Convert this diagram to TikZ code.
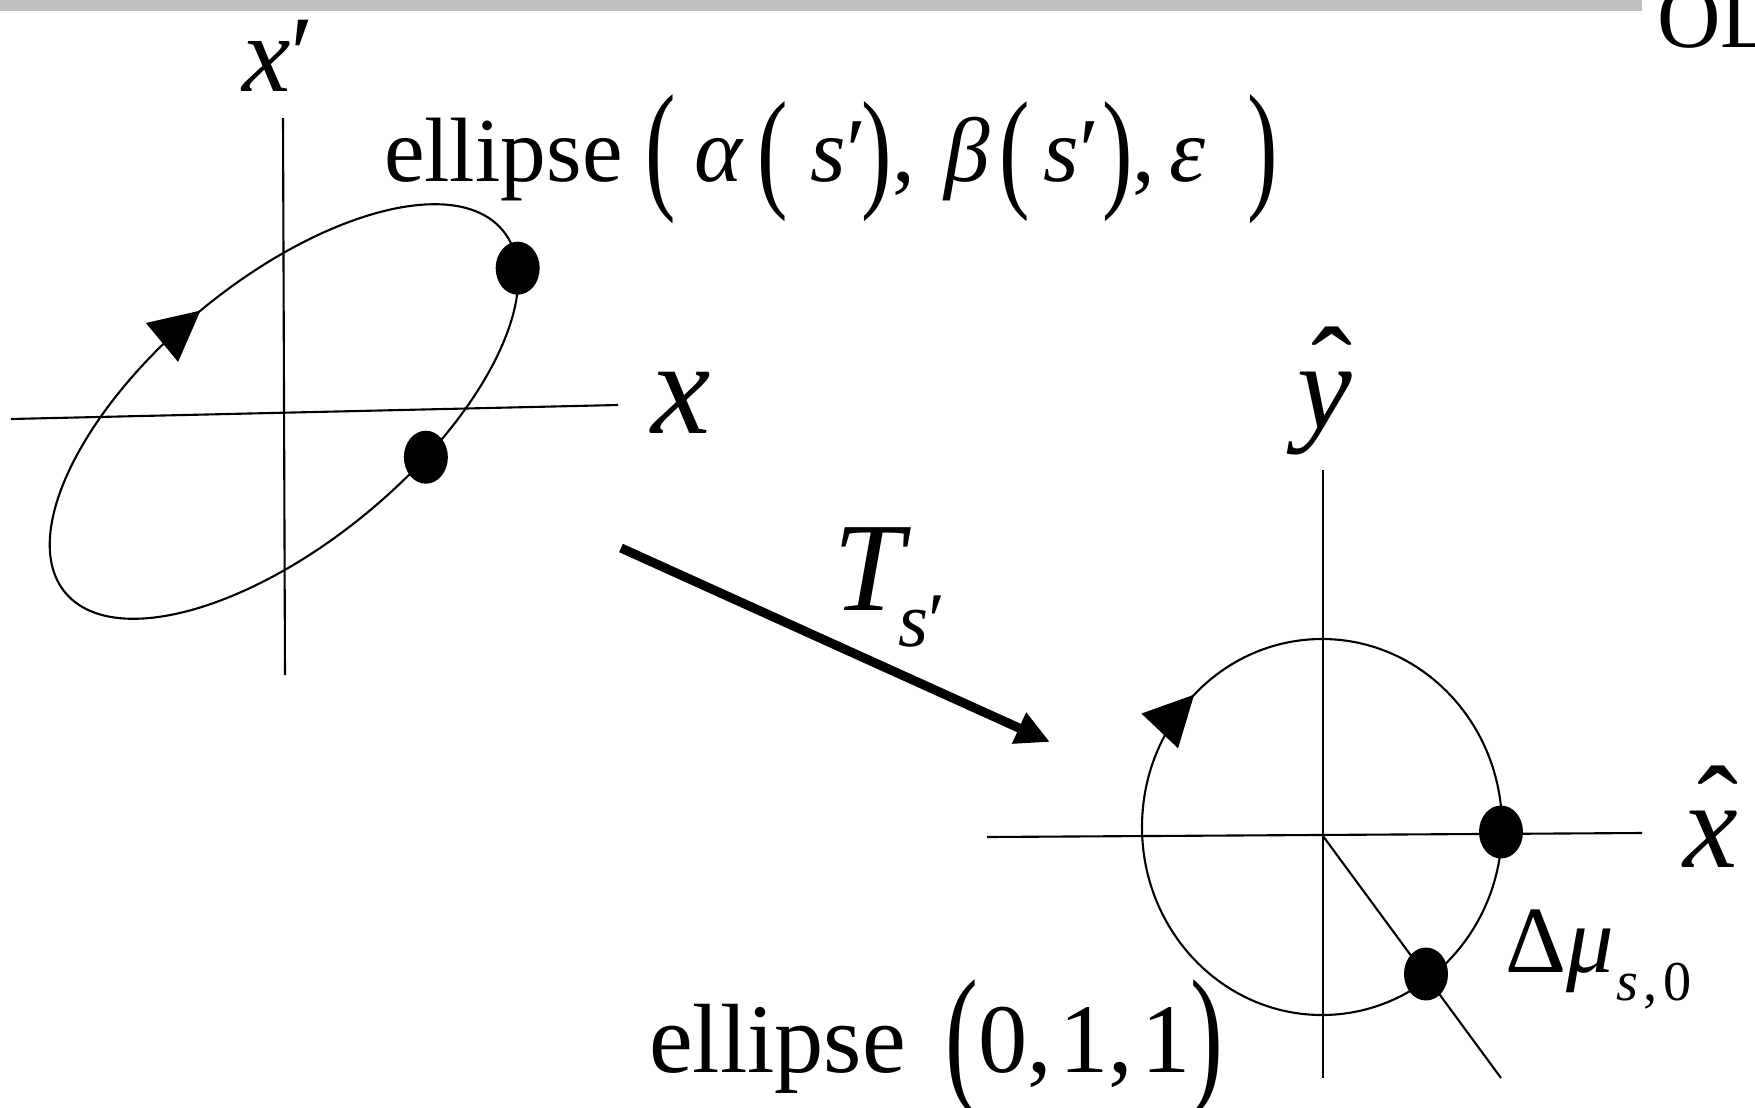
\documentclass[tikz,border=0pt]{standalone}
\usepackage{fontspec}
\setmainfont{Liberation Serif}
\usepackage{graphicx}
\usetikzlibrary{arrows.meta,decorations.markings,shapes.geometric}

\definecolor{bargray}{RGB}{192,192,192}
% stretched brackets, as the slide sets them
\newcommand{\tallp}[2][1.56]{\raisebox{-0.14em}{\scalebox{1}[#1]{#2}}}
% italic letter with a hat
\newcommand{\hatit}[1]{\ooalign{\textit{#1}\cr\hidewidth\raisebox{0.13em}{\hspace{0.12em}ˆ}\hidewidth\cr}}

\begin{document}
\begin{tikzpicture}[
	axis/.style = {line width = 0.6pt},
	orbit/.style = {line width = 0.6pt},
	dot/.style = {ellipse, fill = black, inner sep = 0pt, minimum width = 0.44cm, minimum height = 0.53cm},
	lbl/.style = {inner sep = 0pt, outer sep = 0pt},
	flow/.style = {postaction = {decorate}, decoration = {markings, mark = at position #1 with {\arrow{Triangle[length = 0.5cm, width = 0.5cm]}}}}
	]
	\useasboundingbox (0,0) rectangle (17.55,11.07);
	\fill [bargray] (0,11.07) rectangle (16.42,10.96);
	\node [lbl, anchor = base west, font = \fontsize{25}{25}\selectfont] (title) at (16.57,10.60) {OL};

	% phase space at s'
	\coordinate (oA) at (2.84,6.955);
	\draw [axis] (2.83,9.89) -- (2.85,4.32);
	\draw [axis] (0.11,6.88) -- (6.18,7.02);
	\begin{scope} [shift = {(oA)}, rotate = 39.6]
		\draw [orbit, flow = 0.25] (-2.84,0) arc [start angle = 180, end angle = -180, x radius = 2.84, y radius = 1.31];
		\node [dot] (dotA) at ({2.84*cos(-17.1)},{1.31*sin(-17.1)}) {};
		\node [dot] (dotB) at ({2.84*cos(-73.6)},{1.31*sin(-73.6)}) {};
	\end{scope}
	\node [lbl, anchor = base west, font = \fontsize{31}{31}\selectfont] (xpLbl) at (2.42,10.16) {\textit{x}′};
	\node [lbl, anchor = base, font = \fontsize{38}{38}\selectfont] (xLbl) at (6.81,6.74) {\textit{x}};
	\node [lbl, anchor = base west, font = \fontsize{26}{26}\selectfont] (ellA) at (3.84,9.26) {ellipse \tallp{(}\hspace{0.2em}\textit{α}\hspace{0.15em}\tallp[1.45]{(}\hspace{0.25em}\textit{s}′\hspace{-0.05em}\tallp[1.45]{)}\hspace{0.01em},\hspace{0.32em}\textit{β}\hspace{0.1em}\tallp[1.45]{(}\hspace{0.15em}\textit{s}′\hspace{0.03em}\tallp[1.45]{)},\hspace{0.16em}\textit{ε}\hspace{0.45em}\tallp{)}};

	% the map
	\coordinate (tFrom) at (6.21,5.59);
	\coordinate (tTo) at (10.50,3.65);
	\draw [line width = 2.6pt, -{Triangle[length = 0.34cm, width = 0.32cm]}] (tFrom) -- (tTo);
	\node [lbl, anchor = base west, font = \fontsize{36}{36}\selectfont] (tLbl) at (8.33,4.97) {\textit{T}\kern-3.5pt\raisebox{-10.5pt}{\fontsize{22}{22}\selectfont\textit{s}′}};

	% normalised phase space
	\coordinate (oB) at (13.23,2.71);
	\draw [axis] (13.23,6.37) -- (13.23,0.29);
	\draw [axis] (9.87,2.70) -- (16.42,2.74);
	\draw [orbit, flow = 0.126] (11.42,2.80) arc [start angle = 180, end angle = -180, x radius = 1.80, y radius = 1.88];
	\coordinate (muEnd) at (15.01,0.29);
	\draw [axis] (oB) -- (muEnd);
	\node [dot] (dotC) at (15.01,2.75) {};
	\node [dot] (dotD) at (14.26,1.33) {};
	\node [lbl, anchor = base, font = \fontsize{35}{35}\selectfont] (yhLbl) at (13.25,6.79) {\hatit{y}};
	\node [lbl, anchor = base, font = \fontsize{35}{35}\selectfont] (xhLbl) at (17.11,2.40) {\hatit{x}};
	\node [lbl, anchor = base west, font = \fontsize{27}{27}\selectfont] (muLbl) at (15.05,1.35) {Δ\textit{μ}\raisebox{-0.28cm}{\fontsize{16}{16}\selectfont\hspace{0.05em}\textit{s}\hspace{0.1em},\hspace{0.1em}0}};
	\node [lbl, anchor = base west, font = \fontsize{28}{28}\selectfont] (ellB) at (6.49,0.35) {ellipse\hspace{0.15em} \tallp[1.55]{(}0,\hspace{0.08em}1,\hspace{0.08em}1\tallp[1.55]{)}};
\end{tikzpicture}
\end{document}
